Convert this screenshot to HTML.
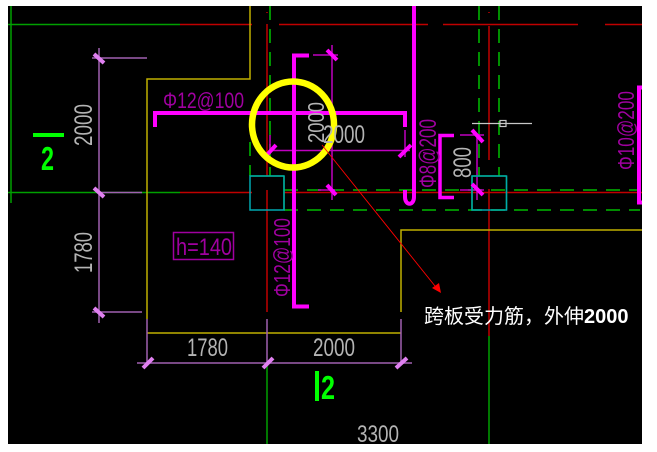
<!DOCTYPE html>
<html><head><meta charset="utf-8"><style>
html,body{margin:0;padding:0;background:#fff;width:657px;height:452px;overflow:hidden}
svg{display:block}
text{font-family:"Liberation Sans",sans-serif}
.g{fill:#b4b4b4}.m{fill:#a000a0}
</style></head><body>
<svg width="657" height="452" viewBox="0 0 657 452" xmlns="http://www.w3.org/2000/svg">
<rect x="8" y="6" width="634" height="438" fill="#000"/>
<g fill="none" stroke-width="1.5">
<!-- green solid -->
<path stroke="#00a000" d="M11 6V203M8 24.5H180M8 192.5H180M267 363V444M489 336V444"/>
<!-- red -->
<path stroke="#c00000" d="M180 24.5H252M279 24.5H428M443 24.5H578M605 24.5H642M180 192.5H252M284 192.5H642"/>
<path stroke="#a00000" stroke-width="1.8" d="M267 12V13M267 24V176M267 190V312"/>
<path stroke="#c00000" d="M489 12V13M489 26V160M489 189V210M489 210V336"/>
<!-- green dashed -->
<path stroke="#00a000" stroke-dasharray="14 9" stroke-width="1.8" d="M270 6V176M250 142V176M479 6V176M499 6V176M284 190H640M284 210H640"/>
<!-- yellow -->
<path stroke="#c0b000" d="M250 6V79H147V319M147 333H401M401 312V230H642"/>
<!-- purple dims -->
<path stroke="#a060b0" d="M99 48V323M92 58H147M99 192.5H142M92 312H142M147 319V363M267 319V363M401 319V363M137 363H412"/>
<!-- magenta dims -->
<path stroke="#c000c0" d="M270 135V150.5M270 150.5H410M332 45V200M313 55H338M405 130V157M460 135H484M477 135V200M460 190H484M318 190H335"/>
<!-- cyan boxes -->
<path stroke="#00a000" d="M284 176V210M250 176H284M472 176V210M506.500 176V210M472 176H506"/>
<path stroke="#00a8b0" d="M250 176H284V210H250ZM472 176H506.500V210H472Z"/>
<!-- crosshair -->
<path stroke="#c8c8c8" stroke-width="1.2" d="M472 123.500H532"/>
<rect x="500" y="120.500" width="6" height="6" stroke="#c8c8c8" stroke-width="1.2"/>
<!-- rebar -->
<path stroke="#ff00ff" stroke-width="4" d="M155 127V113H405V127M309 55.500H294V306.500H309"/>
<path stroke="#ff00ff" stroke-width="4" d="M414 6V197C414 206 405 206 405 197V190"/>
<path stroke="#ff00ff" stroke-width="3.500" d="M454 135.500H440V197.500H454"/>
<path stroke="#ff00ff" stroke-width="4" d="M642 87.500H639V202.500H642"/>
<!-- ticks -->
<path stroke="#e080f0" stroke-width="4" d="M94 54L104 63M94 188L104 197M94 308L104 317M143 368L153 358M263 368L273 358M396 368L407 358"/>
<path stroke="#ff00ff" stroke-width="4" d="M265 157L276 145M399 157L411 145M327 50L337 60M327 185L336 195M472 130L483 142M472 184L483 195"/>
<!-- section bars -->
<path stroke="#00ff00" stroke-width="4" d="M33 135H64M317 371V401"/>
<!-- h box -->
<rect x="173.500" y="232.500" width="60" height="27" stroke="#a000a0"/>
<!-- circle -->
<ellipse cx="293" cy="124.500" rx="41" ry="43" stroke="#ffff00" stroke-width="6.500"/>
<!-- leader -->
<path stroke="#ff0000" stroke-width=".9" d="M322 145L439 291"/>
</g>
<path d="M441 293L432 288L439 283Z" fill="#ff0000"/>
<!-- horizontal text -->
<text class="m" x="163" y="108" font-size="22" textLength="81" lengthAdjust="spacingAndGlyphs">Φ12@100</text>
<text class="m" x="176" y="255" font-size="24" textLength="56" lengthAdjust="spacingAndGlyphs">h=140</text>
<text class="g" x="187" y="356" font-size="25" textLength="41" lengthAdjust="spacingAndGlyphs">1780</text>
<text class="g" x="313" y="356" font-size="25" textLength="42" lengthAdjust="spacingAndGlyphs">2000</text>
<text class="g" x="357" y="442" font-size="24" textLength="42" lengthAdjust="spacingAndGlyphs">3300</text>
<text class="g" x="323" y="143" font-size="25" textLength="42" lengthAdjust="spacingAndGlyphs">2000</text>
<!-- rotated text -->
<text class="g" transform="translate(92 146) rotate(-90)" font-size="25" textLength="42" lengthAdjust="spacingAndGlyphs">2000</text>
<text class="g" transform="translate(92 273) rotate(-90)" font-size="25" textLength="41" lengthAdjust="spacingAndGlyphs">1780</text>
<text class="g" transform="translate(324 143) rotate(-90)" font-size="23" textLength="41" lengthAdjust="spacingAndGlyphs">2000</text>
<text class="g" transform="translate(471 178) rotate(-90)" font-size="25" textLength="31" lengthAdjust="spacingAndGlyphs">800</text>
<text class="m" transform="translate(290 297) rotate(-90)" font-size="23" textLength="79" lengthAdjust="spacingAndGlyphs">Φ12@100</text>
<text class="m" transform="translate(436 188) rotate(-90)" font-size="24" textLength="69" lengthAdjust="spacingAndGlyphs">Φ8@200</text>
<text class="m" transform="translate(634 170) rotate(-90)" font-size="23" textLength="79" lengthAdjust="spacingAndGlyphs">Φ10@200</text>
<!-- section numbers -->
<text x="41" y="170" font-size="33" font-weight="bold" fill="#00ff00" textLength="13" lengthAdjust="spacingAndGlyphs">2</text>
<text x="321" y="399" font-size="33" font-weight="bold" fill="#00ff00" textLength="14" lengthAdjust="spacingAndGlyphs">2</text>
<!-- annotation -->
<text x="424" y="323" font-size="20" fill="#fff" style='font-family:"Noto Sans CJK SC",sans-serif'>跨板受力筋&#xFF0C;外伸<tspan font-weight="bold" style='font-family:"Liberation Sans",sans-serif'>2000</tspan></text>
</svg>
</body></html>
